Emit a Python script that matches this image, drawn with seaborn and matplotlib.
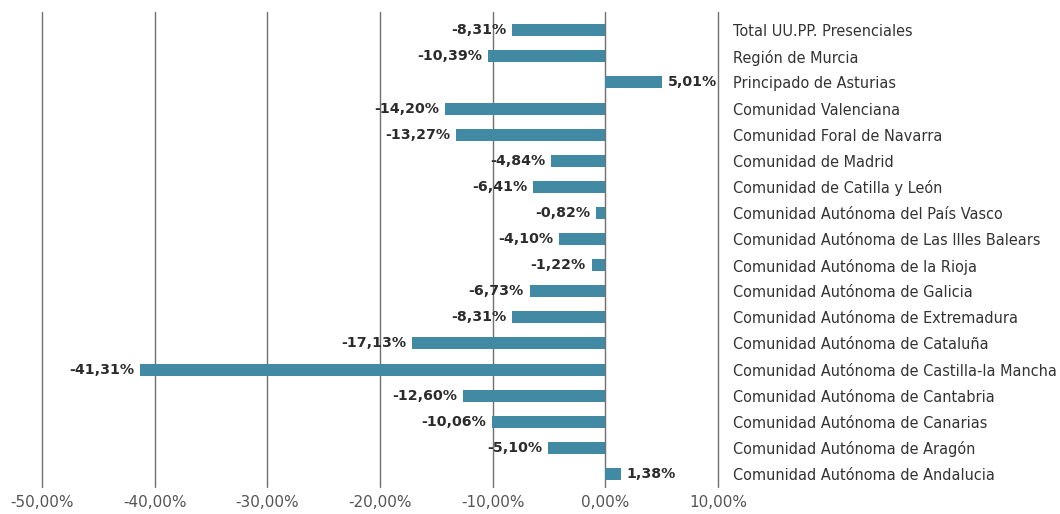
import matplotlib
matplotlib.use("Agg")
import matplotlib.pyplot as plt
import seaborn as sns
import pandas as pd
from matplotlib.ticker import FuncFormatter

regions = [
    "Total UU.PP. Presenciales",
    "Región de Murcia",
    "Principado de Asturias",
    "Comunidad Valenciana",
    "Comunidad Foral de Navarra",
    "Comunidad de Madrid",
    "Comunidad de Catilla y León",
    "Comunidad Autónoma del País Vasco",
    "Comunidad Autónoma de Las Illes Balears",
    "Comunidad Autónoma de la Rioja",
    "Comunidad Autónoma de Galicia",
    "Comunidad Autónoma de Extremadura",
    "Comunidad Autónoma de Cataluña",
    "Comunidad Autónoma de Castilla-la Mancha",
    "Comunidad Autónoma de Cantabria",
    "Comunidad Autónoma de Canarias",
    "Comunidad Autónoma de Aragón",
    "Comunidad Autónoma de Andalucia",
]
values = [-8.31, -10.39, 5.01, -14.20, -13.27, -4.84, -6.41, -0.82, -4.10,
          -1.22, -6.73, -8.31, -17.13, -41.31, -12.60, -10.06, -5.10, 1.38]
x_ticks = [-50, -40, -30, -20, -10, 0, 10]

df = pd.DataFrame({"region": regions, "value": values})

sns.set_theme(style="white")
plt.rcParams["font.family"] = ["DejaVu Sans"]

fig = plt.figure(figsize=(10.6, 5.14), dpi=100)
ax = fig.add_axes([42 / 1060, 1 - 487 / 514, (718 - 42) / 1060, (487 - 12) / 514])

for xv in x_ticks:
    ax.axvline(xv, color="#707070", lw=1, zorder=0, clip_on=False)

sns.barplot(data=df, x="value", y="region", orient="h", color="#428aa3",
            saturation=1, width=0.46, linewidth=0, ax=ax, zorder=2)

for i, v in enumerate(values):
    txt = f"{v:.2f}%".replace(".", ",")
    if v < 0:
        ax.text(v - 0.5, i, txt, ha="right", va="center", fontsize=10.2,
                fontweight="bold", color="#2b2b2b", zorder=3)
    else:
        ax.text(v + 0.5, i, txt, ha="left", va="center", fontsize=10.2,
                fontweight="bold", color="#2b2b2b", zorder=3)

ax.set_xlim(-50, 10)
ax.set_ylim(17.5, -0.7)
ax.set_xticks(x_ticks)
ax.xaxis.set_major_formatter(FuncFormatter(lambda x, p: f"{x:.2f}%".replace(".", ",")))
ax.tick_params(axis="x", length=0, pad=6, labelsize=11, labelcolor="#555555")
ax.yaxis.tick_right()
ax.tick_params(axis="y", length=0, pad=11, labelsize=10.45, labelcolor="#333333")
ax.set_xlabel("")
ax.set_ylabel("")
for s in ax.spines.values():
    s.set_visible(False)

fig.savefig("out.png", dpi=100)
